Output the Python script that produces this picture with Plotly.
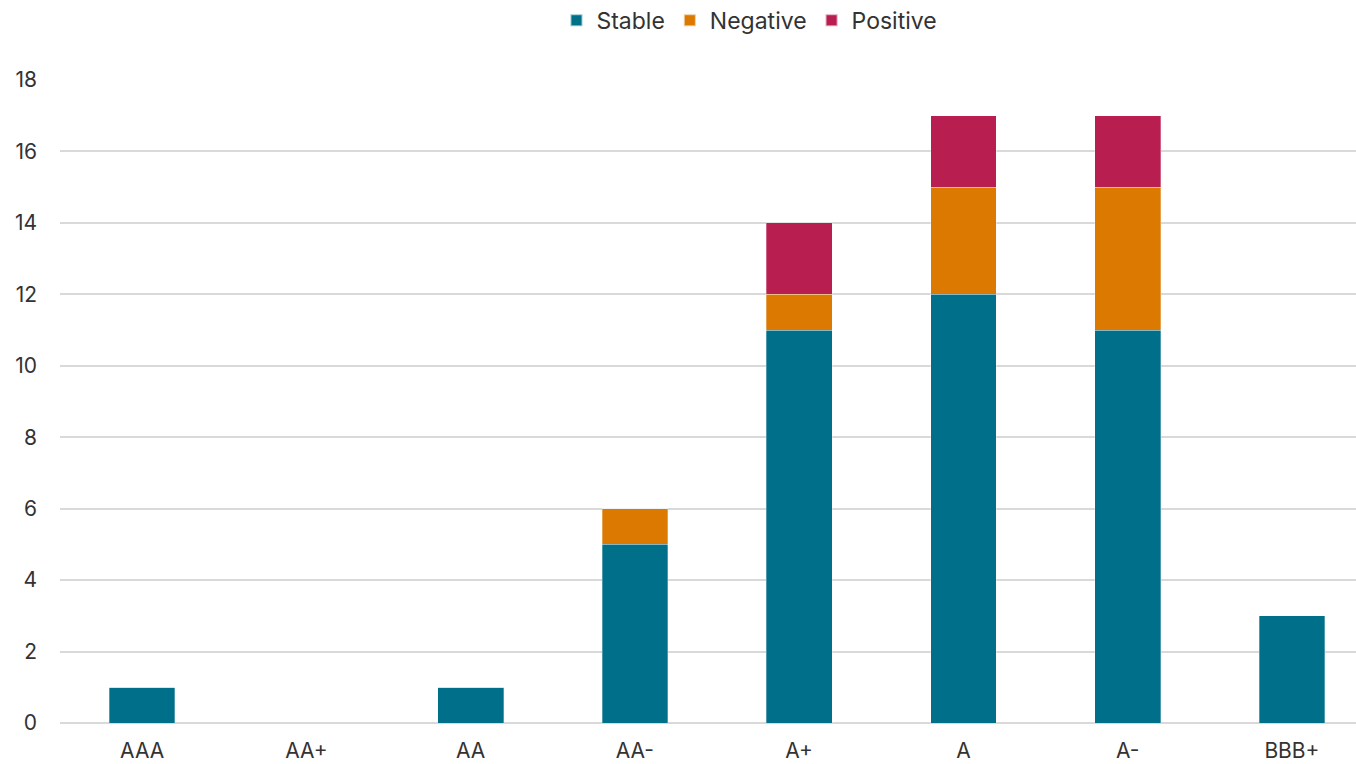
import plotly.graph_objects as go

categories = ["AAA", "AA+", "AA", "AA-", "A+", "A", "A-", "BBB+"]
stable = [1, 0, 1, 5, 11, 12, 11, 3]
negative = [0, 0, 0, 1, 1, 3, 4, 0]
positive = [0, 0, 0, 0, 2, 2, 2, 0]
y_ticks = [0, 2, 4, 6, 8, 10, 12, 14, 16, 18]

series = [("Stable", stable, "#006F8A"), ("Negative", negative, "#DC7900"), ("Positive", positive, "#B91E50")]

fig = go.Figure()
for name, vals, col in series:
    fig.add_trace(go.Bar(x=list(range(len(categories))), y=vals, name=name,
                         marker=dict(color=col, line=dict(width=0.5, color="rgba(255,255,255,0.6)")),
                         width=0.4))

font_family = "Inter, Roboto, sans-serif"
fig.update_layout(
    barmode="stack",
    width=1356, height=764,
    margin=dict(l=60, r=0, t=80, b=41, autoexpand=False),
    plot_bgcolor="white", paper_bgcolor="white",
    font=dict(family=font_family, size=21, color="#333333"),
    showlegend=True,
    legend=dict(orientation="h", x=0.532, xanchor="center", y=1.093, yanchor="middle",
                font=dict(size=23), itemwidth=30, traceorder="normal", itemsizing="constant"),
    xaxis=dict(tickmode="array", tickvals=list(range(len(categories))), ticktext=categories,
               range=[-0.5, 7.39], showgrid=False, zeroline=False, showline=False,
               ticks="", ticklabelstandoff=13),
    yaxis=dict(range=[0, 18], tickmode="array", tickvals=y_ticks, showgrid=True,
               gridcolor="#D9D9D9", gridwidth=1.5, zeroline=True, zerolinecolor="#D9D9D9",
               zerolinewidth=1.5, showline=False, ticks="", ticklabelstandoff=22),
)
fig.write_html("out.html")
